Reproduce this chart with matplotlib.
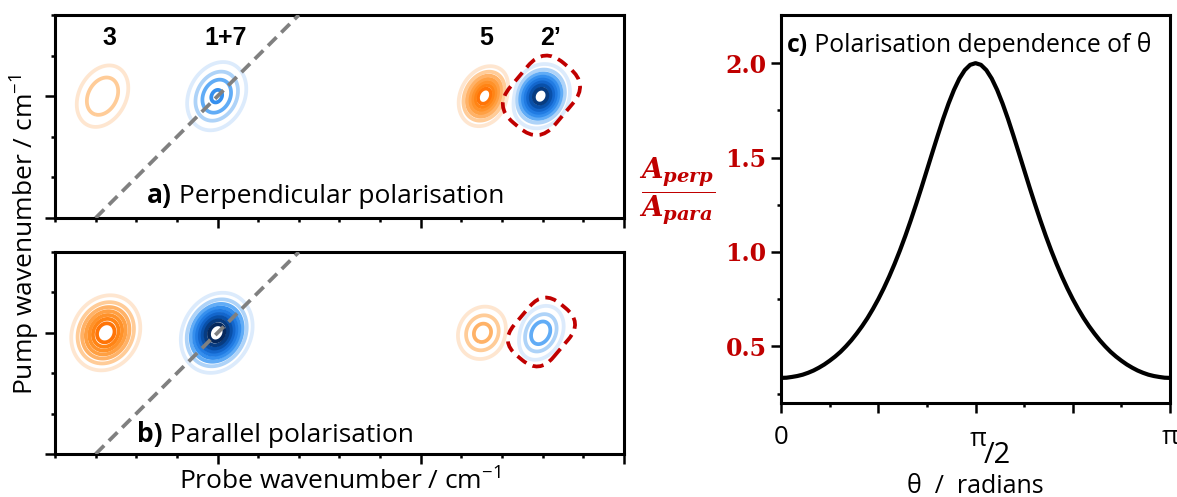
import numpy as np
import matplotlib
matplotlib.use("Agg")
import matplotlib.pyplot as plt
from matplotlib.colors import LinearSegmentedColormap
from matplotlib.patches import FancyBboxPatch
from matplotlib.transforms import Affine2D, blended_transform_factory

plt.rcParams['font.family'] = ['Open Sans', 'DejaVu Sans']
plt.rcParams['mathtext.fontset'] = 'custom'
plt.rcParams['mathtext.rm'] = 'Open Sans'
plt.rcParams['mathtext.it'] = 'DejaVu Serif:italic:bold'
plt.rcParams['mathtext.bf'] = 'DejaVu Serif:bold'

# peak labels (top of panel a)
peak_names = ['3', '1+7', '5', '2\u2019']
label_x = [1.35, 4.19, 10.6, 12.2]

# peaks: probe position, pump position, amplitude (orange < 0, blue > 0), widths
peak_x_a = [1.17, 3.98, 10.57, 11.95]
peak_y_a = [3.0, 3.0, 3.0, 3.0]
amp_a = [-0.30, 0.42, -0.80, 0.90]
sig_long_a = [0.54, 0.52, 0.38, 0.39]
sig_short_a = [0.39, 0.40, 0.29, 0.33]

peak_x_b = [1.25, 3.98, 10.52, 11.95]
peak_y_b = [3.0, 3.0, 3.0, 3.0]
amp_b = [-0.80, 1.00, -0.35, 0.38]
sig_long_b = [0.47, 0.48, 0.42, 0.43]
sig_short_b = [0.40, 0.39, 0.37, 0.32]

# ratio curve
theta_deg = [0, 2.5, 5, 7.5, 10, 12.5, 15, 17.5, 20, 22.5, 25, 27.5, 30, 32.5, 35, 37.5, 40, 42.5, 45,
             47.5, 50, 52.5, 55, 57.5, 60, 62.5, 65, 67.5, 70, 72.5, 75, 77.5, 80, 82.5, 85, 87.5, 90,
             92.5, 95, 97.5, 100, 102.5, 105, 107.5, 110, 112.5, 115, 117.5, 120, 122.5, 125, 127.5, 130,
             132.5, 135, 137.5, 140, 142.5, 145, 147.5, 150, 152.5, 155, 157.5, 160, 162.5, 165, 167.5,
             170, 172.5, 175, 177.5, 180]
ratio = [0.333, 0.334, 0.338, 0.343, 0.350, 0.360, 0.372, 0.387, 0.404, 0.424, 0.446, 0.471, 0.500,
         0.532, 0.568, 0.607, 0.650, 0.698, 0.750, 0.807, 0.869, 0.936, 1.008, 1.085, 1.167, 1.253,
         1.342, 1.434, 1.526, 1.617, 1.705, 1.786, 1.858, 1.918, 1.963, 1.991, 2.000,
         1.991, 1.963, 1.918, 1.858, 1.786, 1.705, 1.617, 1.526, 1.434, 1.342, 1.253, 1.167, 1.085,
         1.008, 0.936, 0.869, 0.807, 0.750, 0.698, 0.650, 0.607, 0.568, 0.532, 0.500, 0.471, 0.446,
         0.424, 0.404, 0.387, 0.372, 0.360, 0.350, 0.343, 0.338, 0.334, 0.333]

red = '#c00000'
blues = LinearSegmentedColormap.from_list('b', ['#dcebfc', '#a8d0f8', '#4aa0f5', '#2a86ea', '#1a72dc',
                                                '#0a58b8', '#07408a', '#052a60', '#021a40'])
oranges = LinearSegmentedColormap.from_list('o', ['#fee6d0', '#ffc890', '#ffab5a', '#ff9a38', '#ff8c1e',
                                                  '#ff7a0a', '#ff6800', '#f45000', '#e03800'])
levels = [0.1, 0.2, 0.3, 0.4, 0.5, 0.6, 0.7, 0.8, 0.9, 1.0]
fs = 19

fig = plt.figure(figsize=(11.77, 4.97), dpi=100)
ax_a = fig.add_axes([0.0467, 0.5614, 0.4834, 0.4085])
ax_b = fig.add_axes([0.0467, 0.0865, 0.4834, 0.4064])
ax_c = fig.add_axes([0.6636, 0.1891, 0.3305, 0.7807])

gx, gy = np.meshgrid(np.linspace(0, 14, 700), np.linspace(0, 5, 250))
ang = np.deg2rad(62)


def field(px, py, amp, sl, ss):
    z = np.zeros_like(gx)
    for x0, y0, a, s1, s2 in zip(px, py, amp, sl, ss):
        dx, dy = gx - x0, gy - y0
        u = dx * np.cos(ang) + dy * np.sin(ang)
        v = -dx * np.sin(ang) + dy * np.cos(ang)
        z += a * np.exp(-u**2 / (2 * s1**2) - v**2 / (2 * s2**2))
    return z


def box(ax, cx, cy, w, h, r):
    p = FancyBboxPatch((cx - w / 2, cy - h / 2), w, h,
                       boxstyle='round,pad=0,rounding_size=%f' % r,
                       fill=False, ec=red, lw=2.7, ls=(0, (3, 1.8)), zorder=5)
    p.set_transform(Affine2D().rotate_deg_around(cx, cy, 50) + ax.transData)
    ax.add_patch(p)


for ax, px, py, amp, sl, ss, title, tag, tpos, bscale in [
        (ax_a, peak_x_a, peak_y_a, amp_a, sig_long_a, sig_short_a, ' Perpendicular polarisation', 'a)', (2.27, 0.37), 1.0),
        (ax_b, peak_x_b, peak_y_b, amp_b, sig_long_b, sig_short_b, ' Parallel polarisation', 'b)', (2.02, 0.30), 0.87)]:
    z = field(px, py, amp, sl, ss)
    ax.contour(gx, gy, z, levels=levels, colors=[blues((l - 0.1) / 0.9) for l in levels], linewidths=2.7)
    neg = [-l for l in levels[::-1]]
    ax.contour(gx, gy, z, levels=neg, colors=[oranges((-l - 0.1) / 0.9) for l in neg], linewidths=2.7,
               linestyles='solid')
    ax.plot([1, 6], [0, 5], color='#808080', lw=2.7, ls=(0, (3.2, 1.8)), zorder=4)
    box(ax, 11.97, 3.02, 1.92 * bscale, 1.44 * bscale, 0.62 * bscale)
    ax.set_xlim(0, 14)
    ax.set_ylim(0, 5)
    ax.set_xticks([4, 9, 14])
    ax.set_xticks(range(15), minor=True)
    ax.set_yticks([0, 3])
    ax.set_yticks(range(6), minor=True)
    ax.set_xticklabels([])
    ax.set_yticklabels([])
    t = ax.text(tpos[0], tpos[1], tag, fontsize=fs, fontweight='bold', va='baseline')
    ax.annotate(title, xy=(1, 0), xycoords=t, va='bottom', fontsize=fs)

for name, lx in zip(peak_names, label_x):
    ax_a.text(lx, 4.43, name, ha='center', va='center', fontsize=18, fontweight='bold',
              family='Liberation Sans')

fig.text(0.0215, 0.527, 'Pump wavenumber / cm$^{-1}$', rotation=90, ha='center', va='center', fontsize=fs)
fig.text(0.289, 0.03, 'Probe wavenumber / cm$^{-1}$', ha='center', va='center', fontsize=fs)

# panel c
ax_c.plot(np.deg2rad(theta_deg), ratio, color='black', lw=3.0, solid_capstyle='round')
ax_c.set_xlim(0, np.pi)
ax_c.set_ylim(0.2, 2.255)
ax_c.set_yticks([0.5, 1.0, 1.5, 2.0])
ax_c.set_yticks([0.25, 0.75, 1.25, 1.75], minor=True)
ax_c.set_yticklabels(['0.5', '1.0', '1.5', '2.0'], color=red, fontweight='bold',
                     family='DejaVu Serif', fontsize=17)
ax_c.set_xticks([0, np.pi / 4, np.pi / 2, 3 * np.pi / 4, np.pi])
ax_c.set_xticks([np.pi / 8 * k for k in (1, 3, 5, 7)], minor=True)
ax_c.set_xticklabels(['0', '', '', '', '\u03c0'], fontsize=18.5)
tr = blended_transform_factory(ax_c.transData, ax_c.transAxes)
ax_c.text(1.591, -0.062, '\u03c0', transform=tr, ha='center', va='top', fontsize=18.5)
ax_c.text(1.640, -0.098, '/2', transform=tr, ha='left', va='top', fontsize=21)
ax_c.set_xlabel('\u03b8  /  radians', fontsize=18)
ax_c.xaxis.set_label_coords(0.5, -0.183)
tc = ax_c.text(0.015, 0.905, 'c)', transform=ax_c.transAxes, fontsize=17.8, fontweight='bold', va='baseline')
ax_c.annotate(' Polarisation dependence of \u03b8', xy=(1, 0), xycoords=tc, va='bottom', fontsize=17.8)
fig.text(0.575, 0.615, r'$\dfrac{A_{perp}}{A_{para}}$', color=red, fontsize=20, ha='center', va='center')

for ax in (ax_a, ax_b, ax_c):
    for s in ax.spines.values():
        s.set_linewidth(2.2)
    ax.tick_params(which='major', direction='out', length=7, width=1.8)
    ax.tick_params(which='minor', direction='out', length=3.2, width=1.8)
ax_c.tick_params(axis='x', which='major', pad=9)

fig.savefig('out.png', dpi=100)
